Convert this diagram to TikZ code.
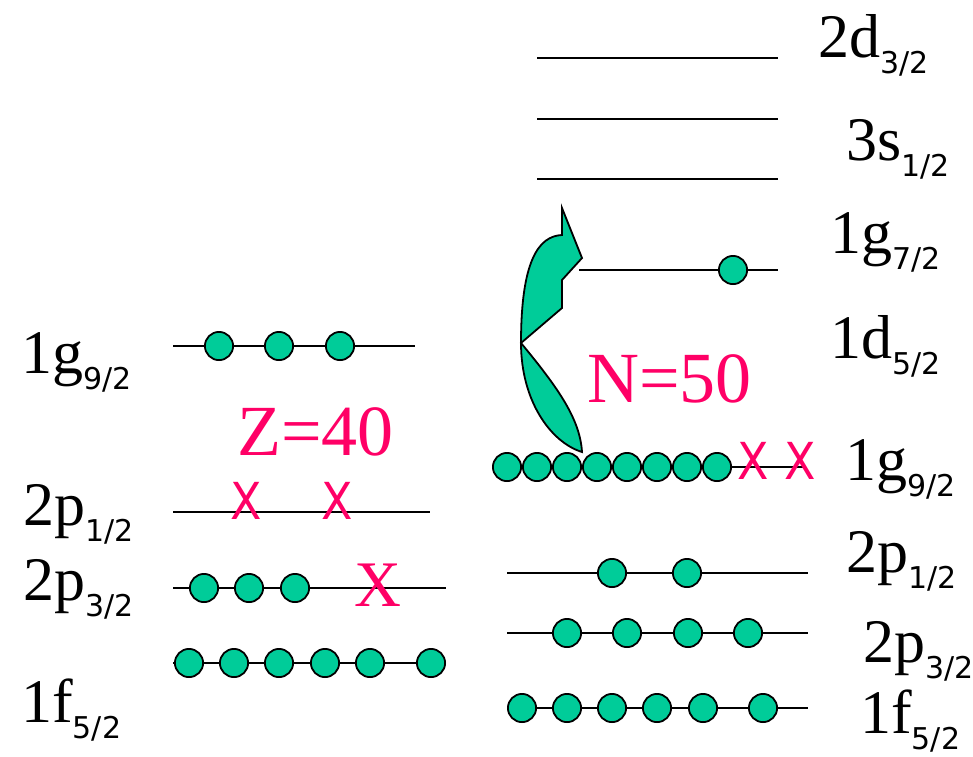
\documentclass[tikz,border=0pt]{standalone}
\usepackage{fontspec}
\setmainfont{Liberation Serif}
\setsansfont{DejaVu Sans}
\definecolor{orbgreen}{HTML}{00CC99}
\definecolor{hotpink}{HTML}{FF0066}
\newcommand\orb[2]{{\fontsize{62}{62}\selectfont #1}\raisebox{-16.5pt}{\fontsize{30}{30}\selectfont\sffamily #2}}
\begin{document}
\begin{tikzpicture}[x=1pt,y=-1pt,
  lvl/.style={line width=1.8pt,draw=black},
  nuc/.style={circle,draw=black,line width=1.8pt,fill=orbgreen,minimum size=28.2pt,inner sep=0pt},
  lbl/.style={anchor=base west,inner sep=0pt,text=black},
  holes/.style={anchor=base,inner sep=0pt,text=hotpink,font=\sffamily\fontsize{51}{51}\selectfont},
  holeb/.style={anchor=base,inner sep=0pt,text=hotpink,font=\fontsize{65}{65}\selectfont},
  magic/.style={anchor=base west,inner sep=0pt,text=hotpink,font=\fontsize{72}{72}\selectfont},
  arrowshape/.style={draw=black,line width=1.8pt,fill=orbgreen,line join=miter}]
\useasboundingbox (0,0) rectangle (973,756);

% ---------- left side (protons) ----------
\coordinate (pg9a) at (173,346); \coordinate (pg9b) at (415,346);
\coordinate (pp1a) at (173,512); \coordinate (pp1b) at (430,512);
\coordinate (pp3a) at (173,588); \coordinate (pp3b) at (446,588);
\coordinate (pf5a) at (173,663); \coordinate (pf5b) at (446,663);
\draw[lvl] (pg9a) -- (pg9b);
\draw[lvl] (pp1a) -- (pp1b);
\draw[lvl] (pp3a) -- (pp3b);
\draw[lvl] (pf5a) -- (pf5b);
\foreach \x [count=\i] in {219,279,340} \node[nuc] (pg\i) at (\x,346) {};
\foreach \x [count=\i] in {204,249,295} \node[nuc] (pp\i) at (\x,588) {};
\foreach \x [count=\i] in {189,234,279,325,370,431} \node[nuc] (pf\i) at (\x,663) {};
\node[holes] (px1) at (246,519) {\scalebox{0.9}[1]{X}};
\node[holes] (px2) at (337,519) {\scalebox{0.9}[1]{X}};
\node[holeb] (px3) at (378,606) {X};
\node[magic] (Z) at (237,455) {Z=40};

\node[lbl] (lg9) at (21,373) {\orb{1g}{9/2}};
\node[lbl] (lp1) at (23,525) {\orb{2p}{1/2}};
\node[lbl] (lp3) at (23,600) {\orb{2p}{3/2}};
\node[lbl] (lf5) at (21,722) {\orb{1f}{5/2}};

% ---------- right side (neutrons) ----------
\coordinate (nd3a) at (537,58);  \coordinate (nd3b) at (778,58);
\coordinate (ns1a) at (537,119); \coordinate (ns1b) at (778,119);
\coordinate (nd5a) at (537,179); \coordinate (nd5b) at (778,179);
\coordinate (ng7a) at (579,270); \coordinate (ng7b) at (778,270);
\coordinate (ng9a) at (507,467); \coordinate (ng9b) at (805,467);
\coordinate (np1a) at (507,573); \coordinate (np1b) at (808,573);
\coordinate (np3a) at (507,633); \coordinate (np3b) at (808,633);
\coordinate (nf5a) at (507,708); \coordinate (nf5b) at (808,708);
\draw[lvl] (nd3a) -- (nd3b);
\draw[lvl] (ns1a) -- (ns1b);
\draw[lvl] (nd5a) -- (nd5b);
\draw[lvl] (ng7a) -- (ng7b);
\draw[lvl] (ng9a) -- (ng9b);
\draw[lvl] (np1a) -- (np1b);
\draw[lvl] (np3a) -- (np3b);
\draw[lvl] (nf5a) -- (nf5b);

% curved arrow
\draw[arrowshape] (521,343) -- (562,308) -- (562,280) -- (582,258) -- (562,208) -- (562,235)
  .. controls (538,236) and (521,262) .. (521,343)
  .. controls (521,400) and (550,442) .. (582,452)
  .. controls (580,420) and (560,390) .. (521,343) -- cycle;

\node[nuc] (n7) at (733,270) {};
\foreach \x [count=\i] in {507,537,567,597,627,657,687,717} \node[nuc] (ng\i) at (\x,467) {};
\foreach \x [count=\i] in {612,687} \node[nuc] (np\i) at (\x,573) {};
\foreach \x [count=\i] in {567,627,688,748} \node[nuc] (nq\i) at (\x,633) {};
\foreach \x [count=\i] in {522,567,612,657,703,763} \node[nuc] (nf\i) at (\x,708) {};
\node[holes] (nx1) at (753,479) {\scalebox{0.9}[1]{X}};
\node[holes] (nx2) at (800,479) {\scalebox{0.9}[1]{X}};
\node[magic] (N) at (587,402) {N=50};

\node[lbl] (rd3) at (818,57)  {\orb{2d}{3/2}};
\node[lbl] (rs1) at (846,160) {\orb{3s}{1/2}};
\node[lbl] (rg7) at (830,253) {\orb{1g}{7/2}};
\node[lbl] (rd5) at (830,358) {\orb{1d}{5/2}};
\node[lbl] (rg9) at (845,480) {\orb{1g}{9/2}};
\node[lbl] (rp1) at (846,572) {\orb{2p}{1/2}};
\node[lbl] (rp3) at (863,662) {\orb{2p}{3/2}};
\node[lbl] (rf5) at (860,733) {\orb{1f}{5/2}};
\end{tikzpicture}
\end{document}
